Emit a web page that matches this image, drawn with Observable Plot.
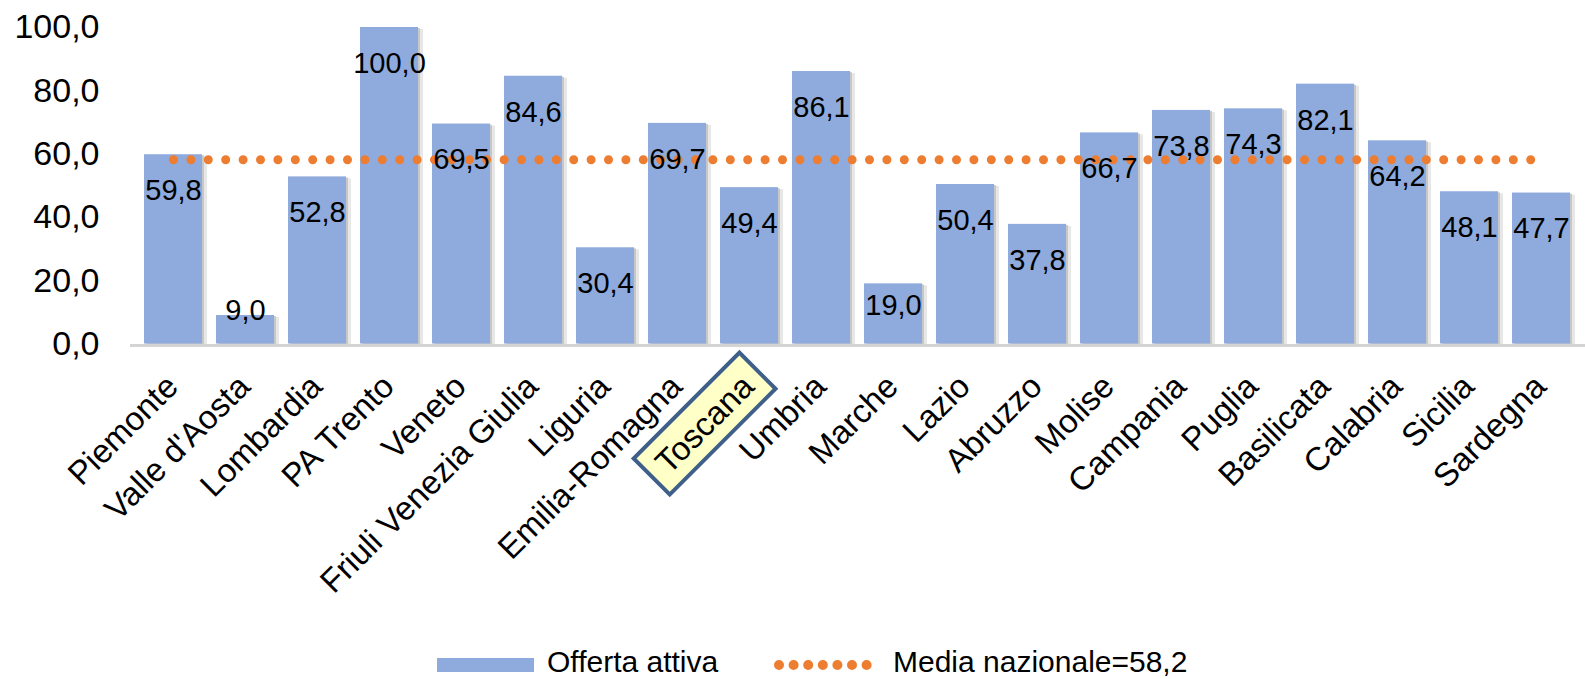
<!DOCTYPE html>
<html><head><meta charset="utf-8">
<script src="https://cdn.jsdelivr.net/npm/d3@7"></script>
<script src="https://cdn.jsdelivr.net/npm/@observablehq/plot@0.6"></script>
<style>
body{margin:0;background:#fff;font-family:"Liberation Sans",Arial,sans-serif;}
#wrap{position:relative;width:1585px;height:679px;overflow:hidden;background:#fff}
#legend{position:absolute;left:0;top:645px;width:1585px;height:34px;font-size:30px;color:#000;line-height:34px}
#legend .sw{position:absolute;top:13px;left:437px;width:97px;height:14px;background:#8FAADC}
#legend .t1{position:absolute;left:547px;top:0}
#legend svg{position:absolute;left:770px;top:0}
#legend .t2{position:absolute;left:893px;top:0}
</style></head><body><div id="wrap"><div id="chart"></div><div id="legend"></div></div>
<script>
const regions = ["Piemonte","Valle d'Aosta","Lombardia","PA Trento","Veneto","Friuli Venezia Giulia","Liguria","Emilia-Romagna","Toscana","Umbria","Marche","Lazio","Abruzzo","Molise","Campania","Puglia","Basilicata","Calabria","Sicilia","Sardegna"];
const offerta = [59.8, 9.0, 52.8, 100.0, 69.5, 84.6, 30.4, 69.7, 49.4, 86.1, 19.0, 50.4, 37.8, 66.7, 73.8, 74.3, 82.1, 64.2, 48.1, 47.7];
const mediaNazionale = 58.2;
const yTicks = [0, 20, 40, 60, 80, 100];
const highlighted = "Toscana";
const seriesName = "Offerta attiva";
const mediaName = "Media nazionale";

const fmt = v => v.toFixed(1).replace(".", ",");
const data = regions.map((r, i) => ({region: r, value: offerta[i]}));
const FONT = "Liberation Sans, Arial, sans-serif";
const BAR = "#8FAADC", ORANGE = "#ED7D31";

const chart = Plot.plot({
  width: 1585, height: 640,
  marginLeft: 130, marginRight: 0, marginTop: 27, marginBottom: 296.5,
  style: {fontFamily: FONT, background: "#fff", color: "#000"},
  x: {domain: regions, paddingInner: 0.19, paddingOuter: 0.09, label: null},
  y: {domain: [0, 100], label: null},
  marks: [
    Plot.barY(data, {x: "region", y: "value", fill: "#9a9a9a", fillOpacity: 0.45, dx: 2, dy: 1}),
    Plot.barY(data, {x: "region", y: "value", fill: "#b0b0b0", fillOpacity: 0.3, dx: 5, dy: 2}),
    Plot.barY(data, {x: "region", y: "value", fill: BAR}),
    Plot.ruleY([0], {stroke: "#d4d4d4", strokeWidth: 3, dy: 1.5}),
    Plot.lineY(regions, {x: d => d, y: () => mediaNazionale, stroke: ORANGE, strokeWidth: 9, strokeDasharray: "0 17.4", strokeLinecap: "round"}),
    Plot.text(data, {x: "region", y: d => d.value - Math.min(11.4, 0.84 * d.value - 9.2), text: d => fmt(d.value), fontSize: 29, fill: "#000"}),
    Plot.axisY({ticks: yTicks, tickFormat: fmt, tickSize: 0, tickPadding: 31, fontSize: 34, label: null}),
    Plot.axisX({tickSize: 0, tickPadding: 0, tickRotate: -45, fontSize: 33, dy: 37, dx: -1, label: null})
  ]
});
document.getElementById("chart").append(chart);

// highlight box behind the Toscana tick label
chart.querySelectorAll("text").forEach(t => {
  if (t.textContent === highlighted && t.closest('g[aria-label="x-axis tick label"]')) {
    const b = t.getBBox();
    const r = document.createElementNS("http://www.w3.org/2000/svg", "rect");
    r.setAttribute("x", b.x - 13); r.setAttribute("y", b.y - 7);
    r.setAttribute("width", b.width + 26); r.setAttribute("height", b.height + 14);
    r.setAttribute("fill", "#FFFFC8"); r.setAttribute("stroke", "#3E5F8A"); r.setAttribute("stroke-width", 4);
    if (t.getAttribute("transform")) r.setAttribute("transform", t.getAttribute("transform"));
    t.parentNode.insertBefore(r, t);
  }
});

const lg = document.getElementById("legend");
lg.innerHTML = `<div class="sw"></div><span class="t1"></span>
<svg width="120" height="34"><line x1="9" x2="97" y1="20" y2="20" stroke="${ORANGE}" stroke-width="10" stroke-linecap="round" stroke-dasharray="0 14.6"/></svg>
<span class="t2"></span>`;
lg.querySelector(".t1").textContent = seriesName;
lg.querySelector(".t2").textContent = `${mediaName}=${fmt(mediaNazionale)}`;
</script></body></html>
